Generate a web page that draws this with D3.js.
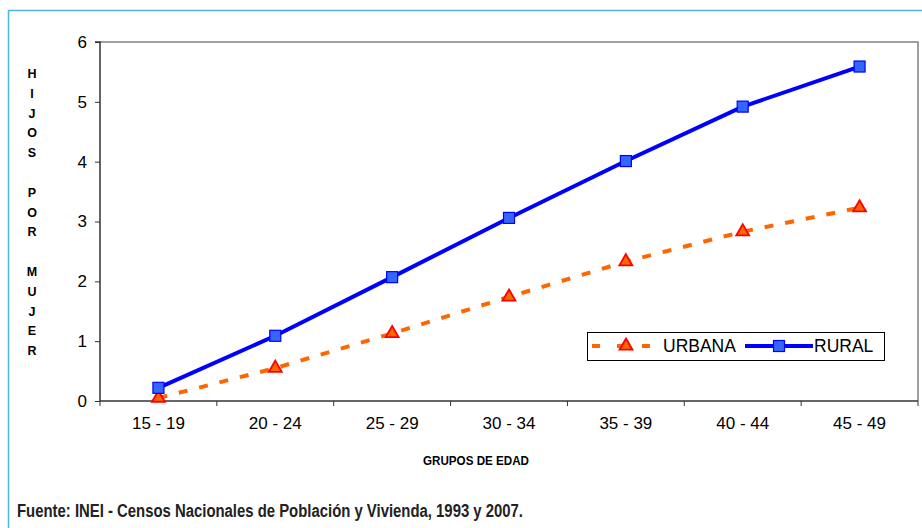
<!DOCTYPE html>
<html>
<head>
<meta charset="utf-8">
<script src="https://cdn.jsdelivr.net/npm/d3@7"></script>
<style>
  body { margin: 0; background: #fff; }
  svg { display: block; }
</style>
</head>
<body>
<div id="chart"></div>
<script>
// datos
const grupos = ["15 - 19", "20 - 24", "25 - 29", "30 - 34", "35 - 39", "40 - 44", "45 - 49"];
const urbana = [0.05, 0.55, 1.13, 1.74, 2.33, 2.83, 3.23];
const rural = [0.22, 1.09, 2.07, 3.06, 4.01, 4.92, 5.59];
const yTicks = [0, 1, 2, 3, 4, 5, 6];

const W = 922, H = 528;
const plot = { left: 100, right: 918, top: 42, bottom: 401 };
const fuente = "'Liberation Sans', Arial, sans-serif";

const svg = d3.select("#chart").append("svg")
  .attr("width", W)
  .attr("height", H);

// marco exterior
svg.append("rect")
  .attr("x", 8.5).attr("y", 10.5)
  .attr("width", W + 10).attr("height", H + 10)
  .attr("fill", "none")
  .attr("stroke", "#4DB3E6")
  .attr("stroke-width", 1.5);

const x = d3.scaleBand()
  .domain(grupos)
  .range([plot.left, plot.right]);

const y = d3.scaleLinear()
  .domain([0, 6])
  .range([plot.bottom, plot.top]);

// borde del area de trazado (arriba y derecha)
svg.append("path")
  .attr("d", `M${plot.left},${plot.top}H${plot.right}V${plot.bottom}`)
  .attr("fill", "none")
  .attr("stroke", "#808080")
  .attr("stroke-width", 1.5);

// eje Y
const yAxis = svg.append("g")
  .attr("transform", `translate(${plot.left},0)`)
  .call(d3.axisLeft(y).tickValues(yTicks).tickSize(5).tickPadding(8).tickFormat(d3.format("d")));

// eje X (ticks en los limites de cada banda)
const xAxis = svg.append("g")
  .attr("transform", `translate(0,${plot.bottom})`)
  .call(d3.axisBottom(x).tickSize(0).tickPadding(16));

xAxis.selectAll(".tick-sep")
  .data(d3.range(grupos.length + 1))
  .join("line")
  .attr("class", "tick-sep")
  .attr("x1", i => plot.left + i * x.step())
  .attr("x2", i => plot.left + i * x.step())
  .attr("y1", 0).attr("y2", 5)
  .attr("stroke", "#333");

[yAxis, xAxis].forEach(a => {
  a.select(".domain").attr("stroke", "#333").attr("stroke-width", 1.5);
  a.selectAll(".tick line").attr("stroke", "#333");
  a.selectAll("text")
    .attr("font-family", fuente)
    .attr("font-size", "17px")
    .attr("fill", "#000");
});
yAxis.select(".domain").attr("d", `M-5,${plot.top}H0V${plot.bottom}`);
xAxis.select(".domain").attr("d", `M${plot.left},0H${plot.right}`);

// lineas
const line = d3.line()
  .x((d, i) => x(grupos[i]) + x.bandwidth() / 2)
  .y(d => y(d));

svg.append("path")
  .datum(urbana)
  .attr("d", line)
  .attr("fill", "none")
  .attr("stroke", "#FF6600")
  .attr("stroke-width", 4)
  .attr("stroke-dasharray", "9,12");

svg.append("path")
  .datum(rural)
  .attr("d", line)
  .attr("fill", "none")
  .attr("stroke", "#0000FF")
  .attr("stroke-width", 4);

const tri = d3.symbol().type(d3.symbolTriangle).size(72);

svg.selectAll(".m-urbana")
  .data(urbana)
  .join("path")
  .attr("class", "m-urbana")
  .attr("transform", (d, i) => `translate(${x(grupos[i]) + x.bandwidth() / 2},${y(d)})`)
  .attr("d", tri)
  .attr("fill", "#FF6600")
  .attr("stroke", "#FF0000")
  .attr("stroke-width", 1.8);

svg.selectAll(".m-rural")
  .data(rural)
  .join("rect")
  .attr("class", "m-rural")
  .attr("x", (d, i) => x(grupos[i]) + x.bandwidth() / 2 - 5.5)
  .attr("y", d => y(d) - 5.5)
  .attr("width", 11).attr("height", 11)
  .attr("fill", "#3366FF")
  .attr("stroke", "#0000FF")
  .attr("stroke-width", 1.2);

// leyenda
const leg = svg.append("g").attr("transform", "translate(587,332)");
leg.append("rect")
  .attr("x", 0.5).attr("y", 0.5)
  .attr("width", 297).attr("height", 28)
  .attr("fill", "#fff")
  .attr("stroke", "#000")
  .attr("stroke-width", 1);

leg.append("line")
  .attr("x1", 5).attr("x2", 73).attr("y1", 14).attr("y2", 14)
  .attr("stroke", "#FF6600").attr("stroke-width", 4)
  .attr("stroke-dasharray", "8,17");
leg.append("path")
  .attr("transform", "translate(39,14)")
  .attr("d", tri)
  .attr("fill", "#FF6600")
  .attr("stroke", "#FF0000")
  .attr("stroke-width", 1.8);
leg.append("text")
  .attr("x", 76).attr("y", 20)
  .attr("font-family", fuente)
  .attr("font-size", "17.5px")
  .text("URBANA");

leg.append("line")
  .attr("x1", 158).attr("x2", 226).attr("y1", 14).attr("y2", 14)
  .attr("stroke", "#0000FF").attr("stroke-width", 4);
leg.append("rect")
  .attr("x", 186.5).attr("y", 8.5)
  .attr("width", 11).attr("height", 11)
  .attr("fill", "#3366FF")
  .attr("stroke", "#0000FF")
  .attr("stroke-width", 1.2);
leg.append("text")
  .attr("x", 227).attr("y", 20)
  .attr("font-family", fuente)
  .attr("font-size", "17.5px")
  .text("RURAL");

// titulo eje Y, letra por letra
const letrasY = "HIJOS POR MUJER".split("");
svg.append("g")
  .selectAll("text")
  .data(letrasY)
  .join("text")
  .attr("x", 32)
  .attr("y", (d, i) => 78 + i * 19.8)
  .attr("text-anchor", "middle")
  .attr("font-family", fuente)
  .attr("font-size", "12.5px")
  .attr("font-weight", "bold")
  .text(d => d);

// titulo eje X (letra estrecha simulada)
svg.append("text")
  .attr("x", 423).attr("y", 465)
  .attr("font-family", fuente)
  .attr("font-size", "13px")
  .attr("font-weight", "bold")
  .attr("textLength", 106)
  .attr("lengthAdjust", "spacingAndGlyphs")
  .text("GRUPOS DE EDAD");

// fuente
svg.append("text")
  .attr("x", 17).attr("y", 517)
  .attr("font-family", fuente)
  .attr("font-size", "18px")
  .attr("font-weight", "bold")
  .attr("fill", "#222")
  .attr("textLength", 506)
  .attr("lengthAdjust", "spacingAndGlyphs")
  .text("Fuente: INEI - Censos Nacionales de Población y Vivienda, 1993 y 2007.");
</script>
</body>
</html>
